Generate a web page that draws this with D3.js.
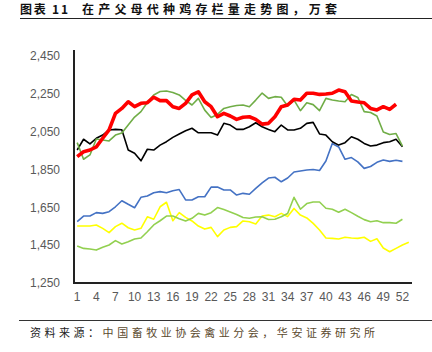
<!DOCTYPE html>
<html>
<head>
<meta charset="utf-8">
<script src="https://cdn.jsdelivr.net/npm/d3@7"></script>
<style>
  body { margin: 0; background: #fff; }
  svg { display: block; }
</style>
</head>
<body>
<div class="containers"></div>
<script>
const weeks = d3.range(1, 54)
const tickWeeks = d3.range(1, 54, 3)
const yTicks = [1250, 1450, 1650, 1850, 2050, 2250, 2450]

const seriesYellow = [1551, 1551, 1551, 1557, 1539, 1516, 1548, 1566, 1542, 1530, 1539, 1600, 1587, 1653, 1677, 1579, 1622, 1597,
  1578, 1551, 1535, 1544, 1495, 1530, 1544, 1548, 1578, 1574, 1562, 1604, 1609, 1600, 1618, 1601, 1644, 1609, 1594, 1565, 1530,
  1488, 1486, 1483, 1492, 1488, 1486, 1492, 1470, 1484, 1435, 1415, 1433, 1451, 1465]
const seriesLightGreen = [1446, 1433, 1430, 1424, 1439, 1451, 1474, 1456, 1468, 1483, 1488, 1521, 1557, 1579, 1604, 1604, 1590, 1578,
  1592, 1618, 1609, 1622, 1649, 1638, 1625, 1612, 1596, 1592, 1599, 1600, 1586, 1587, 1600, 1617, 1703, 1640, 1670, 1678, 1678,
  1645, 1640, 1624, 1640, 1622, 1603, 1585, 1574, 1579, 1569, 1569, 1566, 1587]
const seriesBlue = [1574, 1604, 1604, 1622, 1618, 1627, 1653, 1685, 1666, 1648, 1703, 1710, 1727, 1733, 1727, 1738, 1744, 1689,
  1689, 1706, 1706, 1757, 1757, 1742, 1742, 1715, 1724, 1719, 1750, 1779, 1805, 1809, 1785, 1805, 1837, 1842, 1847, 1850, 1845,
  1895, 1987, 1969, 1904, 1913, 1890, 1856, 1866, 1888, 1900, 1893, 1899, 1893]
const seriesBlack = [1953, 2010, 1985, 2015, 2032, 2059, 2062, 2060, 1953, 1936, 1896, 1957, 1953, 1979, 1997, 2020, 2038, 2055,
  2068, 2044, 2044, 2044, 2032, 2094, 2085, 2062, 2062, 2076, 2097, 2076, 2062, 2050, 2085, 2059, 2059, 2068, 2094, 2099, 2038,
  2032, 1997, 1979, 1992, 2023, 2010, 1988, 1974, 1979, 1992, 1997, 2010, 1970]
const seriesGreen = [1992, 1904, 1927, 2011, 2006, 2001, 2032, 2043, 2085, 2127, 2156, 2204, 2244, 2262, 2265, 2257, 2244, 2215,
  2191, 2226, 2164, 2125, 2141, 2173, 2182, 2188, 2191, 2182, 2217, 2254, 2226, 2235, 2232, 2186, 2217, 2161, 2203, 2193, 2161,
  2226, 2217, 2212, 2208, 2246, 2231, 2156, 2151, 2133, 2048, 2035, 2040, 1974]
const seriesRed = [1918, 1944, 1953, 1970, 2015, 2059, 2147, 2173, 2208, 2182, 2200, 2203, 2232, 2214, 2214, 2182, 2173, 2200,
  2244, 2261, 2208, 2182, 2129, 2147, 2133, 2115, 2126, 2129, 2115, 2090, 2094, 2129, 2182, 2191, 2221, 2217, 2253, 2253, 2247,
  2249, 2253, 2270, 2261, 2212, 2207, 2203, 2173, 2165, 2182, 2168, 2195]

const width = 432
const height = 352
const plotLeft = 74
const plotRight = 412
const plotTop = 56
const plotBottom = 283

const svg = d3.select('.containers')
  .append('svg')
  .attr('width', width)
  .attr('height', height)

// 标题
svg.append('text')
  .attr('x', 20)
  .attr('y', 14)
  .attr('font-family', 'Noto Sans CJK SC')
  .attr('font-weight', 'bold')
  .attr('font-size', 12)
  .attr('fill', '#111')
  .attr('textLength', 48)
  .attr('lengthAdjust', 'spacing')
  .text('图表 11')
svg.append('text')
  .attr('x', 82)
  .attr('y', 14)
  .attr('font-family', 'Noto Sans CJK SC')
  .attr('font-weight', 'bold')
  .attr('font-size', 12)
  .attr('fill', '#111')
  .attr('textLength', 255)
  .attr('lengthAdjust', 'spacing')
  .text('在产父母代种鸡存栏量走势图，万套')
svg.append('line')
  .attr('x1', 20).attr('x2', 432)
  .attr('y1', 18.5).attr('y2', 18.5)
  .attr('stroke', '#222')
  .attr('stroke-width', 1)

const x = d3.scaleBand().domain(weeks).range([plotLeft, plotRight])
const y = d3.scaleLinear().domain([1250, 2450]).range([plotBottom, plotTop])
const cx = w => x(w) + x.bandwidth() / 2

// y 轴标签
svg.append('g')
  .selectAll('text')
  .data(yTicks)
  .join('text')
  .attr('x', 60)
  .attr('y', d => y(d))
  .attr('dy', '0.35em')
  .attr('text-anchor', 'end')
  .attr('font-family', 'Liberation Sans')
  .attr('font-size', 12)
  .attr('fill', '#595959')
  .text(d => d3.format(',')(d))

// x 轴标签
svg.append('g')
  .selectAll('text')
  .data(tickWeeks)
  .join('text')
  .attr('x', d => cx(d))
  .attr('y', 301)
  .attr('text-anchor', 'middle')
  .attr('font-family', 'Liberation Sans')
  .attr('font-size', 12)
  .attr('fill', '#595959')
  .text(d => d)

const line = d3.line()
  .x((d, i) => cx(weeks[i]))
  .y(d => y(d))

const series = [
  { values: seriesYellow, color: '#FFFF00', w: 1.6 },
  { values: seriesLightGreen, color: '#92D050', w: 1.6 },
  { values: seriesBlue, color: '#4472C4', w: 1.6 },
  { values: seriesBlack, color: '#000000', w: 1.6 },
  { values: seriesGreen, color: '#70AD47', w: 1.6 },
  { values: seriesRed, color: '#FF0000', w: 3.6 }
]

svg.append('g')
  .selectAll('path')
  .data(series)
  .join('path')
  .attr('fill', 'none')
  .attr('stroke', d => d.color)
  .attr('stroke-width', d => d.w)
  .attr('stroke-linejoin', 'round')
  .attr('d', d => line(d.values))

// 坐标轴线
svg.append('line')
  .attr('x1', plotLeft).attr('x2', plotLeft)
  .attr('y1', plotTop - 6).attr('y2', plotBottom)
  .attr('stroke', '#222').attr('stroke-width', 2)
svg.append('line')
  .attr('x1', plotLeft - 1).attr('x2', plotRight)
  .attr('y1', plotBottom).attr('y2', plotBottom)
  .attr('stroke', '#222').attr('stroke-width', 2)

// 资料来源
svg.append('line')
  .attr('x1', 19).attr('x2', 432)
  .attr('y1', 320.5).attr('y2', 320.5)
  .attr('stroke', '#333')
  .attr('stroke-width', 1)
const src = svg.append('text')
  .attr('x', 30)
  .attr('y', 337)
  .attr('font-family', 'Noto Sans CJK SC')
  .attr('font-size', 11)
  .attr('textLength', 345)
  .attr('lengthAdjust', 'spacing')
src.append('tspan').attr('fill', '#222').text('资料来源：')
src.append('tspan').attr('fill', '#5b4a2e').text('中国畜牧业协会禽业分会，华安证券研究所')
</script>
</body>
</html>
